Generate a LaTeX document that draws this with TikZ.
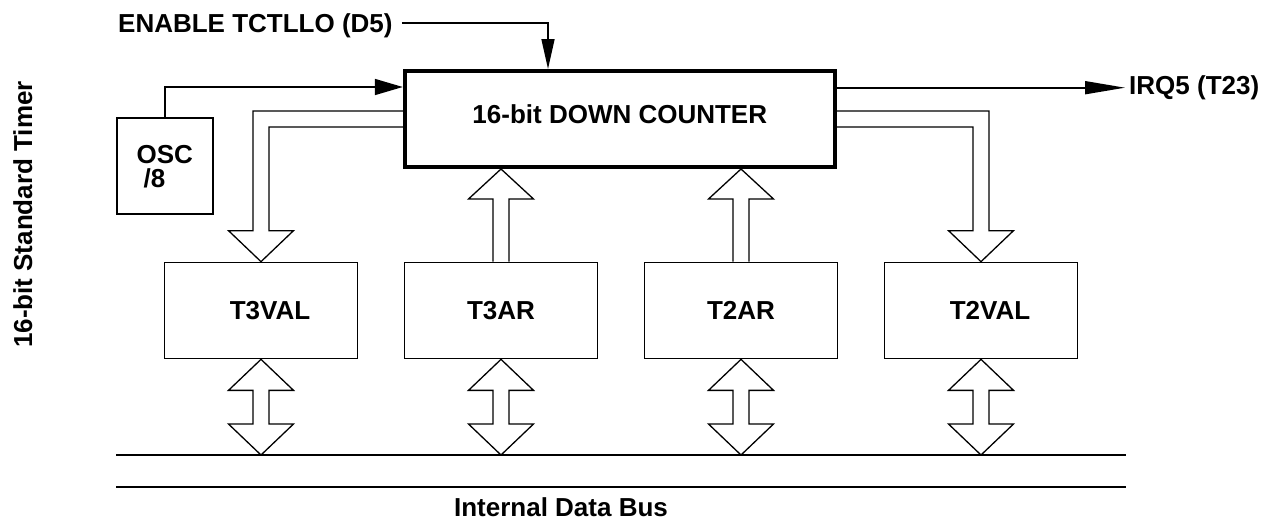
\documentclass[tikz,border=0pt]{standalone}
\usepackage{fontspec}
\setmainfont{Liberation Sans}
\usetikzlibrary{positioning,calc,arrows.meta}

\tikzset{
  lbl/.style={font=\bfseries\fontsize{26}{30}\selectfont},
  blk/.style={draw, line width=1.7pt, minimum width=193pt, minimum height=96pt, inner sep=0pt, lbl},
  hollow/.style={line width=1.3pt, line join=miter},
  sig/.style={line width=1.6pt, -{Triangle[length=30pt,width=14pt]}},
}

\begin{document}
\begin{tikzpicture}[x=1pt,y=-1pt]
\useasboundingbox (0,0) rectangle (1276,522);

\node[lbl, rotate=90, anchor=base] (title) at (32,214.5) {16-bit Standard Timer};

\node[draw, line width=4pt, minimum width=430pt, minimum height=96pt, lbl, text depth=10pt] (counter) at (619.8,119) {16-bit DOWN COUNTER};

\node[draw, line width=1.7pt, minimum size=96pt, inner sep=0pt, align=left, font=\bfseries\fontsize{26}{24}\selectfont] (osc) at (164.7,166.3) {OSC\\\hspace*{7pt}/8};

\node[blk] (t3val) at (261,310.5) {\hspace*{18pt}T3VAL};
\node[blk] (t3ar) at (501,310.5) {T3AR};
\node[blk] (t2ar) at (741,310.5) {T2AR};
\node[blk] (t2val) at (981,310.5) {\hspace*{18pt}T2VAL};

% control and interrupt lines
\node[lbl, anchor=base west, inner sep=0pt] (enable) at (118,32) {ENABLE TCTLLO (D5)};
\coordinate (entop) at (548,22.7);
\draw[sig, -{Triangle[length=30pt,width=13pt]}] ($(enable.east |- entop)+(9,0)$) -- (entop) -- (entop |- counter.north);

\draw[sig, -{Triangle[length=28pt,width=16pt]}] (osc.north) |- ([yshift=32pt]counter.west);

\node[lbl, anchor=west, inner sep=4pt] (irq) at (1125,87.7) {IRQ5 (T23)};
\draw[sig, -{Triangle[length=40pt,width=13pt]}] (counter.east |- irq.west) -- (irq.west);

% counter to value registers
\draw[hollow] let \p1=(counter.west), \p2=(t3val.north) in
  (\x1,\y1+8pt) -| (\x2-8pt,\y2+31pt) -- (\x2-32.5pt,\y2+31pt) -- (\x2,\y2)
  -- (\x2+32.5pt,\y2+31pt) -- (\x2+8pt,\y2+31pt) |- (\x1,\y1-8pt);
\draw[hollow] let \p1=(counter.east), \p2=(t2val.north) in
  (\x1,\y1+8pt) -| (\x2+8pt,\y2+31pt) -- (\x2+32.5pt,\y2+31pt) -- (\x2,\y2)
  -- (\x2-32.5pt,\y2+31pt) -- (\x2-8pt,\y2+31pt) |- (\x1,\y1-8pt);

% reload registers to counter
\foreach \b in {t3ar,t2ar}
  \draw[hollow] let \p1=(\b.north), \p2=(\b.north |- counter.south) in
    (\x1-8pt,\y1) -- (\x1-8pt,\y2-30pt) -- (\x1-32.5pt,\y2-30pt) -- (\x2,\y2)
    -- (\x1+32.5pt,\y2-30pt) -- (\x1+8pt,\y2-30pt) -- (\x1+8pt,\y1);

% internal data bus
\draw[line width=1.7pt] (116,455) coordinate (bustop) -- (1126,455);
\draw[line width=1.7pt] (116,487) -- (1126,487);
\node[lbl, anchor=base] (busname) at (561,516) {Internal Data Bus};

\foreach \b in {t3val,t3ar,t2ar,t2val}
  \draw[hollow] let \p1=(\b.south), \p2=(\b.south |- bustop) in
    (\x1,\y1) -- ++(32.5pt,-31pt) -- ++(-24.5pt,0pt) -- (\x1+8pt,\y2+31pt)
    -- ++(24.5pt,0pt) -- (\x2,\y2) -- ++(-32.5pt,31pt) -- ++(24.5pt,0pt)
    -- (\x1-8pt,\y1-31pt) -- ++(-24.5pt,0pt) -- cycle;
\end{tikzpicture}
\end{document}
